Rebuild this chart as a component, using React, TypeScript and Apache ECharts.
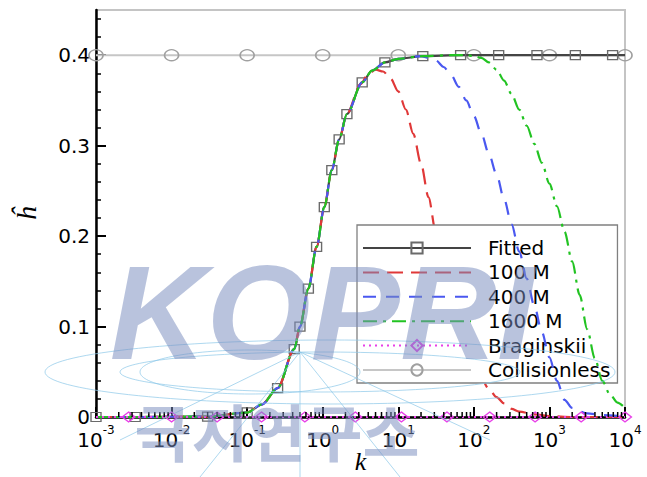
import React, { useEffect, useRef } from "react";
import * as echarts from "echarts";

// ---- data (k, h) ----
// low-k branch shared by all simulated curves (the fitted curve)
const FITTED: [number, number][] = [
  [0.001, 0], [0.0033, 0], [0.03, 0.0005], [0.1, 0.005], [0.253, 0.032], [0.42, 0.075],
  [0.5, 0.1], [0.646, 0.142], [0.83, 0.188], [1.05, 0.232], [1.32, 0.273], [1.65, 0.307],
  [2.09, 0.335], [3.33, 0.37], [6.65, 0.392], [21.1, 0.399], [66.8, 0.4], [213, 0.4],
  [684, 0.4], [2203, 0.4], [6855, 0.4],
];
// unmarked points of the fitted line (k, h)
const FITTED_EXTRA: [number, number][] = [[0.158, 0.014], [4.5, 0.383], [10, 0.396], [10000, 0.4]];

const LOW: [number, number][] = [
  [0.001, 0], [0.0033, 0], [0.03, 0.0005], [0.1, 0.005], [0.158, 0.014], [0.253, 0.032],
  [0.42, 0.075], [0.5, 0.1], [0.646, 0.142], [0.83, 0.188], [1.05, 0.232], [1.32, 0.273],
  [1.65, 0.307], [2.09, 0.335],
];

const M100_TAIL: [number, number][] = [
  [3.16, 0.368], [3.98, 0.379], [5.01, 0.384], [6.31, 0.382], [7.94, 0.374], [10, 0.36],
  [12.6, 0.34], [15.8, 0.313], [20, 0.28], [25.1, 0.243], [31.6, 0.203], [39.8, 0.163],
  [50.1, 0.127], [63.1, 0.097], [79.4, 0.073], [100, 0.055], [126, 0.042], [158, 0.031],
  [200, 0.022], [251, 0.015], [316, 0.009], [398, 0.006], [631, 0.003], [1000, 0.001],
  [2000, 0], [10000, 0],
];

const M400_TAIL: [number, number][] = [
  [3.33, 0.37], [4.5, 0.383], [6.65, 0.392], [10, 0.396], [20, 0.399], [25.1, 0.397],
  [31.6, 0.394], [39.8, 0.387], [50.1, 0.378], [63.1, 0.365], [79.4, 0.35], [100, 0.333],
  [126, 0.313], [158, 0.291], [200, 0.268], [251, 0.241], [316, 0.213], [398, 0.183],
  [501, 0.153], [631, 0.123], [794, 0.094], [1000, 0.066], [1259, 0.04], [1585, 0.019],
  [1995, 0.01], [2512, 0.006], [3162, 0.004], [5012, 0.002], [10000, 0.0005],
];

const M1600_TAIL: [number, number][] = [
  [3.33, 0.37], [4.5, 0.383], [6.65, 0.392], [10, 0.396], [21.1, 0.399], [50, 0.4],
  [79.4, 0.4], [100, 0.399], [126, 0.397], [158, 0.392], [200, 0.384], [251, 0.372],
  [316, 0.357], [398, 0.34], [501, 0.322], [631, 0.302], [794, 0.281], [1000, 0.258],
  [1259, 0.233], [1585, 0.205], [1995, 0.172], [2512, 0.135], [3162, 0.097], [3981, 0.065],
  [5012, 0.04], [6310, 0.025], [7943, 0.016], [10000, 0.01],
];

const BRAG_K: number[] = [0.0027, 0.01, 0.04, 0.155, 0.58, 2.7, 11, 44, 162, 646, 2630, 10000];
const COLL_K: number[] = [0.001, 0.01, 0.1, 1, 10, 100, 1000, 10000];
const COLL_H = 0.4;

const Y_MAJOR: number[] = [0, 0.1, 0.2, 0.3, 0.4];
const Y_MINOR: number[] = [0.02, 0.04, 0.06, 0.08, 0.12, 0.14, 0.16, 0.18, 0.22, 0.24, 0.26, 0.28, 0.32, 0.34, 0.36, 0.38, 0.42, 0.44];
const X_MINOR_MULT: number[] = [2, 3, 4, 5, 6, 7, 8, 9];
const X_DECADES: number[] = [0.001, 0.01, 0.1, 1, 10, 100, 1000];

const SANS = "DejaVu Sans";
const SERIF = "Liberation Serif";
const WM = "rgba(120,140,190,0.52)";
const GLOBE = "rgba(140,200,232,0.7)";

const noSym = { color: "rgba(0,0,0,0)", borderWidth: 0, opacity: 0 };

export default function App() {
  const ref = useRef<HTMLDivElement>(null);
  useEffect(() => {
    if (!ref.current) return;
    const chart = echarts.init(ref.current, null, { renderer: "svg" });
    const xMinor: [number, number][] = [];
    X_DECADES.forEach((d) => X_MINOR_MULT.forEach((m) => xMinor.push([d * m, 0])));

    const fittedData = [
      ...FITTED.map((p) => ({ value: p })),
      ...FITTED_EXTRA.map((p) => ({ value: p, symbol: "none" })),
    ].sort((a, b) => a.value[0] - b.value[0]);

    const wm = (el: any) => ({ ...el, z: 100, silent: true });
    const smoothLine = { type: "line", smooth: 0.3, smoothMonotone: "x", symbol: "none" };

    const option: any = {
      animation: false,
      backgroundColor: "#fff",
      grid: {
        left: 96, right: 22, top: 10, bottom: 60, outerBoundsMode: "none",
        show: true, borderColor: "#c4c4c4", borderWidth: 2, backgroundColor: "transparent",
      },
      xAxis: {
        type: "log", logBase: 10, min: 0.001, max: 10000, splitNumber: 7,
        name: "k", nameLocation: "middle", nameGap: 31, nameMoveOverlap: false,
        nameTextStyle: { fontFamily: SERIF, fontStyle: "italic", fontSize: 26, color: "#000", lineHeight: 26 },
        axisLine: { show: true, lineStyle: { color: "#000", width: 2.5 } },
        axisTick: { show: true, inside: true, length: 10, lineStyle: { color: "#000", width: 2 } },
        splitLine: { show: false },
        axisLabel: {
          margin: 7,
          formatter: (v: number) => `{b|10}{s|${Math.round(Math.log10(v))}}`,
          rich: {
            b: { fontFamily: SANS, fontSize: 20, color: "#000", verticalAlign: "bottom", lineHeight: 26 },
            s: { fontFamily: SANS, fontSize: 12, color: "#000", verticalAlign: "top", lineHeight: 26 },
          },
        },
      },
      yAxis: [
        {
          type: "value", min: 0, max: 0.45, interval: 0.1,
          name: "ĥ", nameLocation: "middle", nameGap: 56,
          nameTextStyle: { fontFamily: SERIF, fontStyle: "italic", fontSize: 28, color: "#000" },
          axisLine: { show: true, lineStyle: { color: "#000", width: 2.5 } },
          axisTick: { show: true, inside: true, length: 10, customValues: Y_MAJOR, lineStyle: { color: "#000", width: 2 } },
          splitLine: { show: false },
          axisLabel: {
            customValues: Y_MAJOR, margin: 6,
            fontFamily: SANS, fontSize: 20, color: "#000",
            formatter: (v: number) => (v === 0 ? "0" : v.toFixed(1)),
          },
        },
        {
          type: "value", min: 0, max: 0.45, position: "left",
          axisLine: { show: false },
          axisTick: { show: true, inside: true, length: 5, customValues: Y_MINOR, lineStyle: { color: "#000", width: 1.5 } },
          axisLabel: { show: false },
          splitLine: { show: false },
        },
      ],
      legend: {
        orient: "vertical", left: 357, top: 225,
        data: [
          "Fitted",
          { name: "100 M", itemStyle: noSym },
          { name: "400 M", itemStyle: noSym },
          { name: "1600 M", itemStyle: noSym },
          "Braginskii",
          "Collisionless",
        ],
        itemWidth: 108, itemHeight: 14, itemGap: 4.4,
        padding: [13, 7, 3, 5],
        backgroundColor: "#fff", borderColor: "#808080", borderWidth: 1.3, borderRadius: 0,
        textStyle: { fontFamily: SANS, fontSize: 20, lineHeight: 20, color: "#000", padding: [0, 0, 0, 12] },
      },
      series: [
        {
          name: "Collisionless", type: "line", z: 1,
          data: COLL_K.map((k) => [k, COLL_H]),
          symbol: "circle", symbolSize: [14, 11], showSymbol: true,
          lineStyle: { color: "#c6c6c6", width: 2 },
          itemStyle: { color: "rgba(255,255,255,0)", borderColor: "#a0a0a0", borderWidth: 1.5 },
        },
        {
          name: "Fitted", type: "line", z: 2, smooth: 0.3, smoothMonotone: "x",
          data: fittedData,
          symbol: "rect", symbolSize: [10, 9], showSymbol: true,
          lineStyle: { color: "#444", width: 2.2 },
          itemStyle: { color: "rgba(255,255,255,0)", borderColor: "#6a6a6a", borderWidth: 1.3 },
        },
        {
          ...smoothLine, name: "100 M", z: 3,
          data: [...LOW, ...M100_TAIL],
          lineStyle: { color: "#e03838", width: 2.2, type: [16, 8] },
          itemStyle: { color: "#e03838" },
        },
        {
          ...smoothLine, name: "400 M", z: 4,
          data: [...LOW, ...M400_TAIL],
          lineStyle: { color: "#4a58f0", width: 2.2, type: [13, 10] },
          itemStyle: { color: "#4a58f0" },
        },
        {
          ...smoothLine, name: "1600 M", z: 5,
          data: [...LOW, ...M1600_TAIL],
          lineStyle: { color: "#22c322", width: 2.2, type: [14, 6, 3, 6] },
          itemStyle: { color: "#22c322" },
        },
        {
          name: "Braginskii", type: "line", z: 6,
          data: [{ value: [0.001, 0], symbol: "none" }, ...BRAG_K.map((k) => ({ value: [k, 0] }))],
          symbol: "diamond", symbolSize: [13, 10], showSymbol: true,
          lineStyle: { color: "#e840e8", width: 2, type: [2, 4] },
          itemStyle: { color: "rgba(255,255,255,0)", borderColor: "#e840e8", borderWidth: 1.3 },
        },
        {
          name: "minorTicks", type: "custom", z: 7, silent: true,
          data: xMinor,
          renderItem: (params: any, api: any) => {
            const p = api.coord([api.value(0), 0]);
            return {
              type: "line",
              shape: { x1: p[0], y1: p[1], x2: p[0], y2: p[1] - 5 },
              style: { stroke: "#000", lineWidth: 1.5 },
            };
          },
        },
      ],
      graphic: [
        wm({ type: "ellipse", shape: { cx: 330, cy: 372, rx: 285, ry: 32 }, style: { fill: "none", stroke: GLOBE, lineWidth: 1 } }),
        wm({ type: "ellipse", shape: { cx: 320, cy: 372, rx: 200, ry: 20 }, style: { fill: "none", stroke: GLOBE, lineWidth: 1 } }),
        wm({ type: "ellipse", shape: { cx: 250, cy: 372, rx: 110, ry: 22 }, style: { fill: "none", stroke: GLOBE, lineWidth: 1 } }),
        wm({ type: "line", shape: { x1: 300, y1: 352, x2: 200, y2: 477 }, style: { stroke: GLOBE, lineWidth: 1 } }),
        wm({ type: "line", shape: { x1: 300, y1: 352, x2: 400, y2: 477 }, style: { stroke: GLOBE, lineWidth: 1 } }),
        wm({ type: "line", shape: { x1: 300, y1: 352, x2: 120, y2: 440 }, style: { stroke: GLOBE, lineWidth: 1 } }),
        wm({ type: "line", shape: { x1: 300, y1: 352, x2: 490, y2: 440 }, style: { stroke: GLOBE, lineWidth: 1 } }),
        wm({ type: "line", shape: { x1: 300, y1: 352, x2: 300, y2: 477 }, style: { stroke: GLOBE, lineWidth: 1 } }),
        wm({
          type: "text", x: 322, y: 312,
          style: { text: "KOPRI", fill: WM, font: "italic bold 134px 'Liberation Sans'", textAlign: "center", textVerticalAlign: "middle" },
        }),
        wm({
          type: "text", x: 277, y: 430,
          style: { text: "극지연구소", fill: WM, font: "bold 62px 'Noto Sans CJK KR'", textAlign: "center", textVerticalAlign: "middle" },
        }),
      ],
    };
    chart.setOption(option);
    return () => chart.dispose();
  }, []);
  return <div ref={ref} style={{ position: "fixed", left: 0, top: 0, width: 647, height: 477 }} />;
}
